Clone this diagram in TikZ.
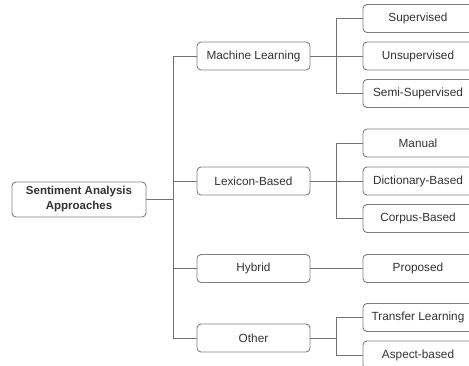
\documentclass[tikz,border=0pt]{standalone}
\usepackage{fontspec}
\setmainfont{Liberation Sans}
\begin{document}
\begin{tikzpicture}[x=1pt,y=-1pt,
  box/.style={draw=black!50,line width=0.9pt,rounded corners=4pt,text=black!80,font=\fontsize{11.8}{15}\selectfont,inner sep=0pt,align=center},
  mid/.style={box,minimum width=113pt,minimum height=28pt},
  leaf/.style={box,minimum width=110pt,minimum height=28pt},
  conn/.style={draw=black!55,line width=0.9pt}]
\clip (0,0) rectangle (469,366);
\useasboundingbox (0,0) rectangle (469,366);
\fill[white] (0,0) rectangle (469,366);
\node[box,minimum width=134pt,minimum height=35pt,font=\fontsize{11.5}{15}\selectfont\bfseries] (root) at (79,199.5) {Sentiment Analysis\\Approaches};
\node[mid] (ml) at (253.5,56) {Machine Learning};
\node[mid] (lx) at (253.5,181) {Lexicon-Based};
\node[mid] (hy) at (253.5,268.5) {Hybrid};
\node[mid] (ot) at (253.5,338) {Other};
\node[leaf] (sup) at (418,18.5) {Supervised};
\node[leaf] (uns) at (418,56) {Unsupervised};
\node[leaf] (semi) at (418,93.5) {Semi-Supervised};
\node[leaf] (man) at (418,143) {Manual};
\node[leaf] (dic) at (418,181) {Dictionary-Based};
\node[leaf] (cor) at (418,218.5) {Corpus-Based};
\node[leaf] (pro) at (418,268.5) {Proposed};
\node[leaf] (tl) at (418,317.5) {Transfer Learning};
\node[leaf] (asp) at (418,355) {Aspect-based};
\coordinate (tk) at (173,0);
\coordinate (br) at (336,0);
\draw[conn] (root.east) -- (tk |- root.east);
\draw[conn] (tk |- ml.west) -- (tk |- ot.west);
\foreach \n in {ml,lx,hy,ot} \draw[conn] (tk |- \n.west) -- (\n.west);
% ML branch
\draw[conn] (ml.east) -- (uns.west);
\draw[conn] (br |- sup.west) -- (br |- semi.west);
\draw[conn] (br |- sup.west) -- (sup.west);
\draw[conn] (br |- semi.west) -- (semi.west);
% Lexicon branch
\draw[conn] (lx.east) -- (dic.west);
\draw[conn] (br |- man.west) -- (br |- cor.west);
\draw[conn] (br |- man.west) -- (man.west);
\draw[conn] (br |- cor.west) -- (cor.west);
% Hybrid
\draw[conn] (hy.east) -- (pro.west);
% Other
\draw[conn] (ot.east) -- (br |- ot.east);
\draw[conn] (br |- tl.west) -- (br |- asp.west);
\draw[conn] (br |- tl.west) -- (tl.west);
\draw[conn] (br |- asp.west) -- (asp.west);
\end{tikzpicture}
\end{document}
